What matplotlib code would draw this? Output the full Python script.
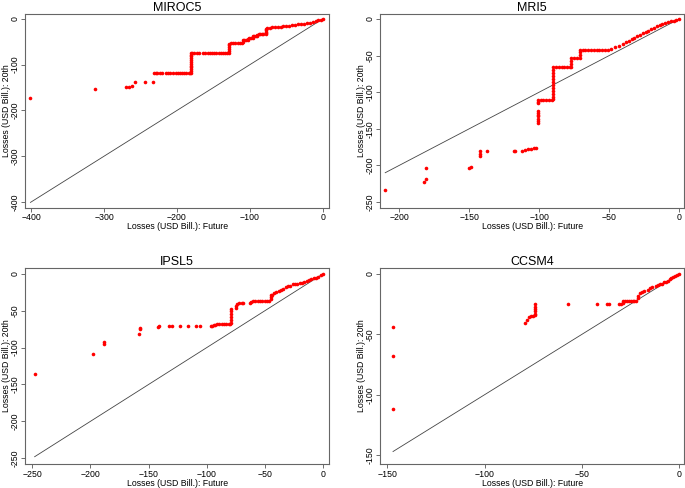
import matplotlib
matplotlib.use("Agg")
import matplotlib.pyplot as plt

plt.rcParams['font.family'] = ['Liberation Sans', 'DejaVu Sans']

# MIROC5
miroc_x = [-401, -313, -270, -266, -262, -258, -244, -233,
           -231, -229, -227, -224, -221, -215, -212, -209, -205, -202, -199, -196, -193, -190, -187, -184, -182,
           -181, -181, -181, -181, -181, -181, -181, -181, -181, -181, -181, -181,
           -179, -176, -173, -170, -165, -161, -158, -155, -152, -149, -146, -143, -140, -137, -134, -131,
           -129, -129, -129, -129, -129, -129,
           -126, -123, -120, -117, -114, -111,
           -110, -110, -108, -105, -103, -103, -101, -98, -96, -96, -94, -92, -90, -90, -88, -86, -84, -82,
           -78, -78, -78, -78, -78,
           -76, -73, -70, -66, -62, -58, -54, -50, -46, -42, -38, -34, -30, -26, -22, -18, -14, -10, -6, -3, 0]
miroc_y = [-172, -154, -149, -148, -146, -138, -138, -138,
           -118, -118, -118, -118, -118, -118, -118, -118, -118, -118, -118, -118, -118, -118, -118, -118, -118,
           -118, -114, -110, -106, -102, -98, -94, -90, -86, -82, -78, -74,
           -74, -74, -74, -74, -74, -74, -74, -74, -74, -74, -74, -74, -74, -74, -74, -74,
           -74, -70, -66, -62, -58, -54,
           -53, -53, -53, -53, -53, -53,
           -50, -47, -47, -47, -47, -44, -42, -42, -42, -38, -38, -38, -38, -35, -34, -34, -34, -34,
           -34, -31, -28, -25, -22,
           -20, -19, -18.5, -18, -17.5, -17, -16.5, -16, -15, -14, -13, -12, -11.5, -11, -9.5, -8, -6.5, -5, -3, -1.5, 0]

# MRI5
mri_x = [-210, -182, -181, -181, -150, -149, -142, -142, -142, -137, -118, -117,
         -112, -110, -108, -106, -104, -102,
         -101, -101, -101, -101, -101, -101, -101, -101, -101, -101,
         -99, -97, -95, -93, -91,
         -90, -90, -90, -90, -90, -90, -90, -90, -90, -90, -90, -90,
         -88, -86, -84, -82, -80, -78,
         -77, -77, -77, -77,
         -75, -73,
         -71, -71, -71, -71,
         -69, -67, -65, -63, -61, -59, -57, -55, -53, -51,
         -49, -46, -43, -40, -38, -36, -34, -32, -30, -28, -26, -24, -22, -20, -18, -16, -14, -12, -10, -8, -6, -4, -2, 0]
mri_y = [-233, -222, -218, -203, -203, -202, -187, -184, -181, -181, -181, -180,
         -180, -179, -178, -177, -176, -176,
         -142, -140, -136, -133, -131, -129, -126, -115, -113, -111,
         -110.5, -110.5, -110.5, -110.5, -110.5,
         -110, -106, -102, -98, -94, -90, -86, -82, -78, -74, -70, -66,
         -66, -66, -66, -66, -66, -66,
         -66, -62, -58, -54,
         -53, -53,
         -53, -49, -45, -42,
         -42, -42, -42, -42, -42, -42, -42, -42, -42, -42,
         -41, -39, -37, -34, -31, -30, -28, -26, -24, -22, -19.5, -18, -16, -14, -12, -10, -8, -7, -5.5, -4.5, -3.5, -2.5, -1.2, 0]

# IPSL5
ipsl_x = [-248, -198, -188, -188, -158, -157, -157, -142, -141, -132, -130, -123, -116, -109, -106,
          -96, -95, -94, -93, -91, -89, -87, -85, -83, -81, -79.5,
          -79, -79, -79, -79, -79, -79,
          -75, -75, -74, -72, -70, -69,
          -63, -62, -60, -58, -56, -54, -52, -50, -48, -46,
          -45, -45, -45,
          -44, -42, -40, -38, -36, -34, -32, -30, -28, -26, -24, -22, -20, -18, -16, -14, -12, -10, -8, -6, -4, -2, 0]
ipsl_y = [-136, -108, -95, -93, -82, -75, -73, -72, -71, -71, -71, -71, -71, -71, -71,
          -70, -70, -69, -69, -68, -68, -68, -68, -68, -68, -68,
          -66, -62, -58, -54, -50, -47,
          -46, -44, -41, -40, -40, -40,
          -40, -38, -37, -37, -37, -37, -37, -37, -37, -37,
          -34, -31, -29,
          -28, -26, -25, -23, -22, -20, -18, -17, -16, -14, -13.5, -13, -12.5, -12, -11, -10, -8.5, -7, -6, -5, -3.5, -1.5, 0]

# CCSM4
ccsm_x = [-147, -147, -147,
          -79, -78, -77, -76, -75, -74, -74, -74, -74, -74, -74,
          -57, -42, -37, -36, -31, -30, -29, -29,
          -28, -27, -26, -25, -24, -23, -22,
          -21, -21, -20, -19, -18, -16, -15, -14, -12, -11, -10, -9, -8, -7, -6, -5, -4, -3, -2, -1, 0]
ccsm_y = [-44, -68, -112,
          -41, -38, -36, -35, -34.5, -34, -33, -31, -29, -27, -25,
          -25, -25, -25, -25, -25, -25, -24, -22,
          -22, -22, -22, -22, -22, -22, -22,
          -20, -18, -16, -15, -14, -13, -12, -11, -10, -9, -8.5, -8, -7, -6.5, -5.5, -4.5, -3.5, -2.5, -1.5, -1, 0]

panels = [
    ("MIROC5", miroc_x, miroc_y, -401, [-400, -300, -200, -100, 0], [-400, -300, -200, -100, 0],
     (-408, 8.2), (-413, 10.9), [0.037, 0.574, 0.443, 0.3975]),
    ("MRI5", mri_x, mri_y, -210, [-200, -150, -100, -50, 0], [-250, -200, -150, -100, -50, 0],
     (-213.6, 3.6), (-258, 6.8), [0.555, 0.574, 0.444, 0.3975]),
    ("IPSL5", ipsl_x, ipsl_y, -248, [-250, -200, -150, -100, -50, 0], [-250, -200, -150, -100, -50, 0],
     (-256, 5.1), (-258, 8.2), [0.037, 0.049, 0.443, 0.402]),
    ("CCSM4", ccsm_x, ccsm_y, -147, [-150, -100, -50, 0], [-150, -100, -50, 0],
     (-153.6, 2.6), (-157.4, 5.0), [0.555, 0.049, 0.444, 0.402]),
]

fig = plt.figure(figsize=(6.85, 4.88), dpi=100)
for title, xs, ys, lo, xt, yt, xl, yl, pos in panels:
    ax = fig.add_axes(pos)
    ax.plot([lo, 0], [lo, 0], color='#444444', lw=0.6)
    ax.plot(xs, ys, 'o', color='red', ms=2.6, mec='red', mew=0)
    ax.set_xlim(*xl)
    ax.set_ylim(*yl)
    ax.set_xticks(xt)
    ax.set_yticks(yt)
    ax.set_yticklabels([str(v) for v in yt], rotation=90, va='center')
    ax.tick_params(labelsize=6.3, length=3, width=0.6, color='#555555', pad=1)
    for s in ax.spines.values():
        s.set_color('#666666')
        s.set_linewidth(0.8)
    ax.set_title(title, fontsize=9, pad=2)
    ax.set_xlabel('Losses (USD Bill.): Future', fontsize=6.3, labelpad=0)
    ax.set_ylabel('Losses (USD Bill.): 20th', fontsize=6.3, labelpad=0)

fig.savefig('out.png', dpi=100)
